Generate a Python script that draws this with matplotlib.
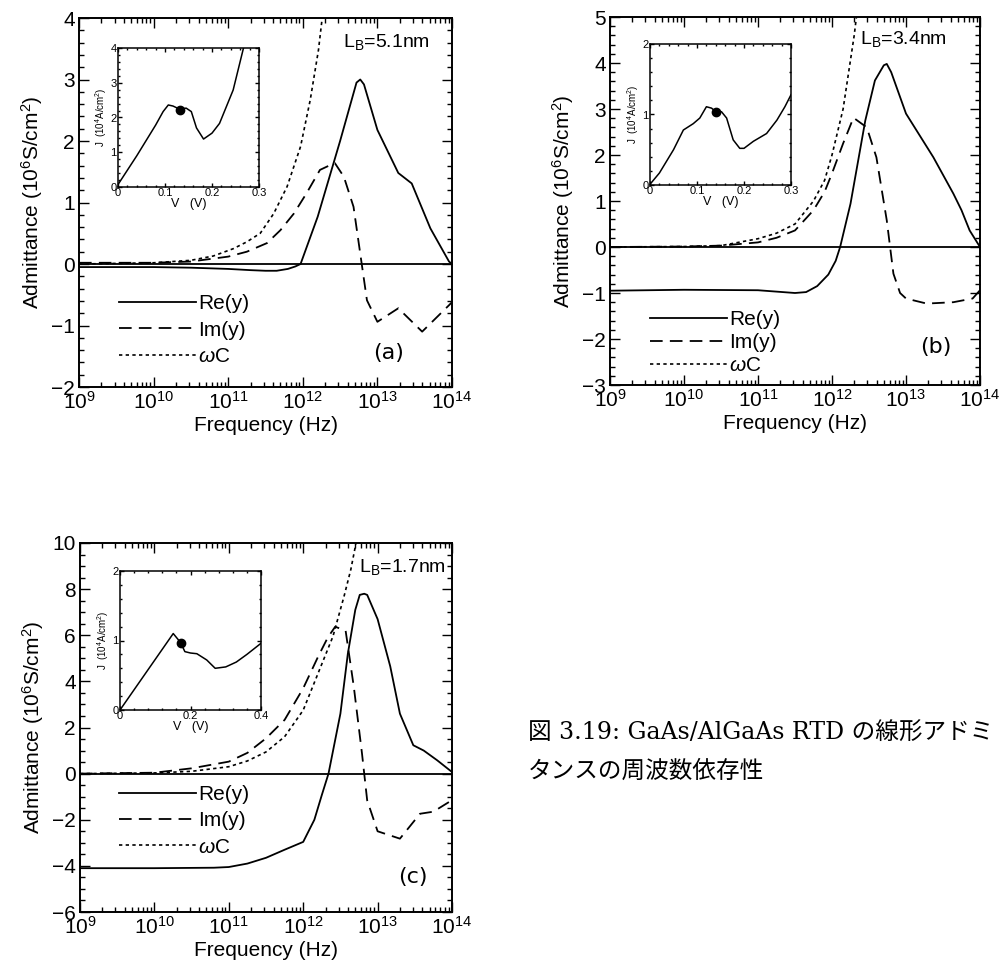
import numpy as np
import matplotlib
matplotlib.use("Agg")
import matplotlib.pyplot as plt
from matplotlib.ticker import MultipleLocator, AutoMinorLocator, LogLocator, NullFormatter

plt.rcParams["font.family"] = ["Liberation Sans", "DejaVu Sans"]
plt.rcParams["mathtext.fontset"] = "custom"
plt.rcParams["mathtext.rm"] = "Liberation Sans"
plt.rcParams["mathtext.it"] = "Liberation Sans:italic"
plt.rcParams["mathtext.bf"] = "Liberation Sans:bold"

# ---- panel (a): L_B = 5.1 nm ----
a_re_logf = [9.0, 10.0, 10.5, 11.0, 11.3, 11.5, 11.65, 11.8, 11.9, 11.97, 12.2, 12.5,
             12.72, 12.77, 12.82, 13.0, 13.28, 13.46, 13.71, 13.96, 14.0]
a_re = [-0.05, -0.05, -0.06, -0.08, -0.10, -0.11, -0.11, -0.08, -0.04, 0.0, 0.77, 2.0,
        2.95, 3.0, 2.92, 2.18, 1.48, 1.31, 0.58, 0.04, 0.0]
a_im_logf = [9.0, 10.0, 10.5, 11.0, 11.25, 11.52, 11.7, 11.88, 12.05, 12.23, 12.37, 12.43,
             12.55, 12.68, 12.79, 12.86, 13.0, 13.28, 13.6, 13.96, 14.0]
a_im = [0.02, 0.02, 0.04, 0.12, 0.2, 0.34, 0.55, 0.82, 1.15, 1.53, 1.61, 1.64,
        1.42, 0.93, 0.0, -0.59, -0.94, -0.72, -1.1, -0.67, -0.62]
a_wc_logf = [9.0, 10.0, 10.5, 10.8, 11.07, 11.25, 11.43, 11.61, 11.79, 11.97, 12.1, 12.21, 12.26]
a_wc = [0.0, 0.02, 0.06, 0.13, 0.25, 0.36, 0.5, 0.82, 1.26, 1.91, 2.67, 3.48, 4.0]
a_iv_v = [0.0, 0.04, 0.08, 0.096, 0.107, 0.117, 0.131, 0.145, 0.156, 0.167, 0.182, 0.2,
          0.216, 0.245, 0.267]
a_iv_j = [0.07, 0.9, 1.78, 2.17, 2.36, 2.33, 2.24, 2.27, 2.17, 1.7, 1.38, 1.55,
          1.83, 2.79, 4.0]
a_dot = (0.132, 2.23)

# ---- panel (b): L_B = 3.4 nm ----
b_re_logf = [9.0, 10.0, 11.0, 11.25, 11.5, 11.65, 11.8, 11.95, 12.05, 12.11, 12.25, 12.45,
             12.58, 12.7, 12.74, 12.8, 13.0, 13.37, 13.64, 13.75, 13.86, 14.0]
b_re = [-0.95, -0.93, -0.94, -0.97, -1.0, -0.98, -0.85, -0.6, -0.3, 0.0, 0.94, 2.75,
        3.62, 3.95, 3.98, 3.8, 2.9, 1.95, 1.16, 0.8, 0.36, 0.0]
b_im_logf = [9.0, 10.0, 10.5, 11.0, 11.25, 11.5, 11.75, 11.9, 12.0, 12.15, 12.29, 12.47,
             12.6, 12.74, 12.83, 12.92, 13.0, 13.28, 13.64, 13.9, 14.0]
b_im = [0.0, 0.01, 0.03, 0.1, 0.2, 0.36, 0.8, 1.2, 1.6, 2.25, 2.81, 2.6,
        1.95, 0.58, -0.58, -1.0, -1.12, -1.23, -1.2, -1.12, -0.94]
b_wc_logf = [9.0, 10.0, 10.5, 11.0, 11.25, 11.5, 11.75, 11.9, 12.0, 12.15, 12.3, 12.33]
b_wc = [0.0, 0.01, 0.03, 0.18, 0.3, 0.5, 1.0, 1.45, 2.0, 3.0, 4.6, 5.0]
b_iv_v = [0.0, 0.02, 0.05, 0.071, 0.092, 0.106, 0.12, 0.131, 0.14, 0.152, 0.163, 0.177,
          0.191, 0.2, 0.22, 0.248, 0.27, 0.287, 0.3]
b_iv_j = [0.01, 0.17, 0.5, 0.78, 0.87, 0.95, 1.11, 1.09, 1.04, 1.04, 0.95, 0.64,
          0.52, 0.52, 0.62, 0.73, 0.92, 1.11, 1.28]
b_dot = (0.14, 1.04)

# ---- panel (c): L_B = 1.7 nm ----
c_re_logf = [9.0, 10.0, 10.8, 11.0, 11.25, 11.5, 11.75, 12.0, 12.15, 12.25, 12.34, 12.5,
             12.6, 12.7, 12.76, 12.82, 12.86, 13.0, 13.17, 13.3, 13.48, 13.62, 13.8, 14.0]
c_re = [-4.1, -4.1, -4.08, -4.05, -3.9, -3.65, -3.3, -2.96, -2.0, -0.93, 0.0, 2.6,
        5.2, 7.1, 7.75, 7.8, 7.75, 6.7, 4.65, 2.6, 1.23, 1.0, 0.58, 0.07]
c_im_logf = [9.0, 10.0, 10.5, 11.0, 11.25, 11.5, 11.75, 12.0, 12.2, 12.33, 12.43, 12.57,
             12.68, 12.79, 12.86, 13.0, 13.3, 13.57, 13.75, 14.0]
c_im = [0.0, 0.04, 0.23, 0.52, 0.9, 1.53, 2.33, 3.7, 5.07, 5.9, 6.37, 6.2,
        3.77, 0.88, -1.16, -2.5, -2.82, -1.74, -1.65, -1.15]
c_wc_logf = [9.0, 10.0, 10.5, 11.0, 11.25, 11.5, 11.75, 12.0, 12.2, 12.4, 12.55, 12.64, 12.71]
c_wc = [0.0, 0.03, 0.1, 0.3, 0.55, 0.94, 1.6, 2.75, 4.35, 5.95, 7.7, 8.85, 10.0]
c_iv_v = [0.0, 0.151, 0.172, 0.184, 0.2, 0.218, 0.246, 0.27, 0.3, 0.33, 0.36, 0.4]
c_iv_j = [0.0, 1.10, 0.97, 0.84, 0.82, 0.81, 0.72, 0.6, 0.62, 0.69, 0.8, 0.96]
c_dot = (0.172, 0.97)

labels = ["Re(y)", "Im(y)", r"$\omega$C"]
caption_lines = ["図 3.19: GaAs/AlGaAs RTD の線形アドミ", "タンスの周波数依存性"]
W, H = 1006, 971


def px_box(left, top, right, bottom):
    return [left / W, 1 - bottom / H, (right - left) / W, (bottom - top) / H]


def style_ticks(ax, size, major, minor):
    ax.tick_params(which="both", direction="in", top=True, right=True, width=1.0)
    ax.tick_params(which="major", length=major, labelsize=size, pad=3)
    ax.tick_params(which="minor", length=minor)


def panel(fig, box, inset_box, re_f, re_y, im_f, im_y, wc_f, wc_y, ylim, ystep, yminor,
          lb_text, lb_xy, letter, letter_xy, leg_anchor, leg_space,
          iv_v, iv_j, dot, vmax, vstep, jmax):
    ax = fig.add_axes(px_box(*box))
    ax.set_xscale("log")
    ax.plot(10 ** np.array(re_f), re_y, "k-", lw=1.3, label=labels[0])
    ax.plot(10 ** np.array(im_f), im_y, "k", ls=(0, (7, 4)), lw=1.3, label=labels[1])
    ax.plot(10 ** np.array(wc_f), wc_y, "k", ls=(0, (2, 2)), lw=1.2, label=labels[2])
    ax.axhline(0, color="k", lw=1.3)
    ax.set_xlim(1e9, 1e14)
    ax.set_ylim(*ylim)
    ax.yaxis.set_major_locator(MultipleLocator(ystep))
    ax.yaxis.set_minor_locator(AutoMinorLocator(yminor))
    ax.xaxis.set_major_locator(LogLocator(base=10, numticks=10))
    ax.xaxis.set_minor_locator(LogLocator(base=10, subs=np.arange(2, 10), numticks=20))
    ax.xaxis.set_minor_formatter(NullFormatter())
    style_ticks(ax, 15, 7, 3.5)
    for s in ax.spines.values():
        s.set_linewidth(1.4)
    ax.set_xlabel("Frequency (Hz)", fontsize=15, labelpad=2)
    ax.set_ylabel(r"Admittance (10$^6$S/cm$^2$)", fontsize=15, labelpad=4)
    ax.text(*lb_xy, lb_text, transform=ax.transAxes, fontsize=14, ha="right", va="center")
    ax.text(*letter_xy, letter, transform=ax.transAxes, fontsize=16, ha="center",
            va="center", family="DejaVu Sans")
    ax.legend(loc="upper left", bbox_to_anchor=leg_anchor, frameon=False, fontsize=15,
              handlelength=3.7, handletextpad=0.1, labelspacing=leg_space,
              borderpad=0, borderaxespad=0)

    ins = fig.add_axes(px_box(*inset_box))
    ins.plot(iv_v, iv_j, "k-", lw=1.1)
    ins.plot(*dot, "ko", ms=6)
    ins.set_xlim(0, vmax)
    ins.set_ylim(0, jmax)
    ins.xaxis.set_major_locator(MultipleLocator(vstep))
    ins.xaxis.set_minor_locator(AutoMinorLocator(5))
    ins.yaxis.set_major_locator(MultipleLocator(1))
    ins.yaxis.set_minor_locator(AutoMinorLocator(5))
    ins.xaxis.set_major_formatter(lambda v, p: "0" if v == 0 else f"{v:.1f}")
    style_ticks(ins, 8, 3, 1.5)
    ins.tick_params(which="major", pad=1)
    for s in ins.spines.values():
        s.set_linewidth(1.1)
    ins.set_xlabel("V   (V)", fontsize=9, labelpad=0)
    ins.set_ylabel(r"J  (10$^4$A/cm$^2$)", fontsize=7, labelpad=1)
    return ax


fig = plt.figure(figsize=(W / 100, H / 100), dpi=100)

panel(fig, (79, 18, 452, 387), (118, 48, 259, 187), a_re_logf, a_re, a_im_logf, a_im,
      a_wc_logf, a_wc, (-2, 4), 1, 5, r"L$_\mathregular{B}$=5.1nm", (0.94, 0.935),
      "(a)", (0.83, 0.092), (0.108, 0.251), 0.35,
      a_iv_v, a_iv_j, a_dot, 0.3, 0.1, 4)

panel(fig, (610, 17, 980, 385), (650, 44, 791, 185), b_re_logf, b_re, b_im_logf, b_im,
      b_wc_logf, b_wc, (-3, 5), 1, 5, r"L$_\mathregular{B}$=3.4nm", (0.91, 0.94),
      "(b)", (0.88, 0.102), (0.108, 0.204), 0.2,
      b_iv_v, b_iv_j, b_dot, 0.3, 0.1, 2)

panel(fig, (80, 543, 452, 912), (120, 571, 261, 710), c_re_logf, c_re, c_im_logf, c_im,
      c_wc_logf, c_wc, (-6, 10), 2, 4, r"L$_\mathregular{B}$=1.7nm", (0.985, 0.935),
      "(c)", (0.895, 0.095), (0.105, 0.344), 0.35,
      c_iv_v, c_iv_j, c_dot, 0.4, 0.2, 2)

cap_font = ["DejaVu Serif", "Noto Sans CJK JP"]
fig.text(528 / W, 1 - 733 / H, caption_lines[0], fontsize=17,
         family=cap_font, ha="left", va="center")
fig.text(528 / W, 1 - 771 / H, caption_lines[1], fontsize=17,
         family=cap_font, ha="left", va="center")

fig.savefig("out.png", dpi=100)
